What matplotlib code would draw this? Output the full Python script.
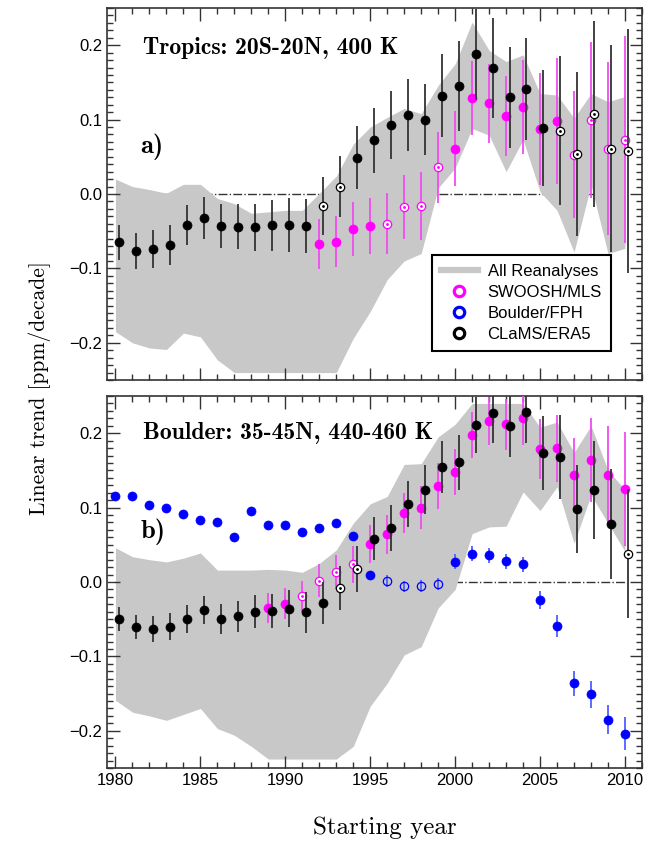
import matplotlib
matplotlib.use('Agg')
import matplotlib.pyplot as plt
from matplotlib.lines import Line2D
from matplotlib.ticker import MultipleLocator
import numpy as np

plt.rcParams['font.family'] = ['Liberation Sans', 'DejaVu Sans']

# Starting years (trend computed from this year on)
years = np.arange(1980, 2011)

# ---- panel a) Tropics 20S-20N, 400 K ----
top_rean_hi = [0.020, 0.010, 0.006, 0.001, 0.013, 0.013, -0.006, -0.013, -0.026, -0.024, -0.022,
               -0.022, 0.001, 0.024, 0.067, 0.090, 0.103, 0.115, 0.108, 0.146, 0.175, 0.231,
               0.193, 0.178, 0.187, 0.135, 0.133, 0.102, 0.135, 0.124, 0.131]
top_rean_lo = [-0.185, -0.200, -0.207, -0.209, -0.187, -0.192, -0.223, -0.240, -0.240, -0.240,
               -0.240, -0.240, -0.240, -0.240, -0.194, -0.158, -0.115, -0.090, -0.080, 0.008,
               0.035, 0.088, 0.079, 0.030, 0.073, 0.003, -0.022, -0.078, 0.012, -0.080, -0.073]

top_clams = [-0.065, -0.077, -0.074, -0.068, -0.042, -0.032, -0.043, -0.044, -0.045, -0.042,
             -0.042, -0.043, -0.016, 0.010, 0.049, 0.072, 0.093, 0.106, 0.100, 0.132, 0.145,
             0.188, 0.169, 0.130, 0.141, 0.089, 0.085, 0.054, 0.108, 0.061, 0.058]
top_clams_err = [0.024, 0.024, 0.025, 0.027, 0.027, 0.028, 0.029, 0.030, 0.032, 0.034, 0.036,
                 0.036, 0.039, 0.041, 0.042, 0.044, 0.046, 0.048, 0.048, 0.056, 0.060, 0.061,
                 0.067, 0.068, 0.069, 0.078, 0.100, 0.110, 0.125, 0.139, 0.164]
top_clams_open = [1992, 1993, 2006, 2007, 2008, 2009, 2010]

top_swoosh_years = np.arange(1992, 2011)
top_swoosh = [-0.067, -0.064, -0.047, -0.043, -0.040, -0.018, -0.016, 0.036, 0.061, 0.129,
              0.122, 0.105, 0.117, 0.087, 0.098, 0.053, 0.099, 0.061, 0.073]
top_swoosh_err = [0.034, 0.034, 0.036, 0.038, 0.041, 0.043, 0.046, 0.048, 0.050, 0.050, 0.053,
                  0.054, 0.063, 0.075, 0.085, 0.085, 0.105, 0.116, 0.139]
top_swoosh_open = [1996, 1997, 1998, 1999, 2007, 2008, 2009, 2010]

# ---- panel b) Boulder 35-45N, 440-460 K ----
bot_rean_hi = [0.046, 0.034, 0.030, 0.027, 0.032, 0.039, 0.016, 0.016, 0.016, 0.017, 0.016,
               0.013, 0.025, 0.043, 0.079, 0.105, 0.115, 0.158, 0.159, 0.195, 0.212, 0.240,
               0.240, 0.240, 0.240, 0.208, 0.215, 0.174, 0.210, 0.150, 0.124]
bot_rean_lo = [-0.159, -0.175, -0.180, -0.186, -0.178, -0.170, -0.197, -0.206, -0.221, -0.238,
               -0.238, -0.238, -0.238, -0.238, -0.221, -0.167, -0.136, -0.098, -0.087, -0.035,
               -0.010, 0.065, 0.074, 0.075, 0.121, 0.096, 0.128, 0.052, 0.117, 0.079, 0.041]

bot_clams = [-0.050, -0.061, -0.063, -0.060, -0.050, -0.038, -0.050, -0.046, -0.040, -0.039,
             -0.036, -0.041, -0.028, -0.008, 0.018, 0.058, 0.072, 0.105, 0.124, 0.155, 0.161,
             0.211, 0.227, 0.210, 0.229, 0.173, 0.168, 0.098, 0.124, 0.078, 0.038]
bot_clams_err = [0.016, 0.016, 0.017, 0.018, 0.019, 0.019, 0.020, 0.021, 0.022, 0.023, 0.025,
                 0.027, 0.028, 0.029, 0.031, 0.029, 0.031, 0.031, 0.033, 0.035, 0.037, 0.037,
                 0.040, 0.042, 0.042, 0.050, 0.056, 0.059, 0.066, 0.074, 0.087]
bot_clams_open = [1993, 1994, 2010]

bot_swoosh_years = np.arange(1989, 2011)
bot_swoosh = [-0.035, -0.029, -0.019, 0.002, 0.013, 0.024, 0.051, 0.064, 0.093, 0.100, 0.129,
              0.148, 0.198, 0.216, 0.212, 0.221, 0.179, 0.180, 0.144, 0.164, 0.144, 0.125]
bot_swoosh_err = [0.020, 0.021, 0.021, 0.022, 0.023, 0.025, 0.026, 0.026, 0.027, 0.029, 0.031,
                  0.031, 0.031, 0.032, 0.034, 0.037, 0.040, 0.045, 0.050, 0.056, 0.065, 0.076]
bot_swoosh_open = [1991, 1992, 1993, 1994]

bot_fph = [0.115, 0.115, 0.103, 0.100, 0.092, 0.083, 0.080, 0.061, 0.096, 0.076, 0.077, 0.067,
           0.072, 0.079, 0.062, 0.009, 0.001, -0.006, -0.005, -0.003, 0.027, 0.038, 0.036,
           0.028, 0.024, -0.024, -0.059, -0.136, -0.151, -0.185, -0.204]
bot_fph_err = [0.004, 0.004, 0.004, 0.004, 0.004, 0.004, 0.004, 0.004, 0.004, 0.004, 0.004,
               0.004, 0.004, 0.004, 0.004, 0.006, 0.008, 0.008, 0.008, 0.008, 0.010, 0.010,
               0.010, 0.010, 0.010, 0.012, 0.015, 0.017, 0.018, 0.019, 0.022]
bot_fph_open = [1996, 1997, 1998, 1999]

GRAY = '#c8c8c8'
MAG = '#ff00ff'
BLUE = '#0000ff'
BLACK = '#000000'
AXC = '#333333'


def draw_series(ax, x, y, err, open_years, color, ecolor, dx=0.0, z=3, dot=True):
    x = np.asarray(x, dtype=float)
    y = np.asarray(y)
    err = np.asarray(err)
    is_open = np.isin(x, open_years)
    ax.errorbar(x + dx, y, yerr=err, fmt='none', ecolor=ecolor, elinewidth=1.3,
                capsize=0, zorder=z)
    ax.plot(x[~is_open] + dx, y[~is_open], 'o', color=color, ms=6.5, mec=color,
            mew=0.5, zorder=z + 0.2)
    if dot:
        ax.plot(x[is_open] + dx, y[is_open], 'o', mfc='white', mec=color, mew=0.9,
                ms=6, zorder=z + 0.2)
        ax.plot(x[is_open] + dx, y[is_open], 'o', color=color, ms=1.0, zorder=z + 0.3)
    else:
        ax.plot(x[is_open] + dx, y[is_open], 'o', mfc='none', mec=color, mew=0.9,
                ms=6, zorder=z + 0.2)


def style_axes(ax, show_xlabels):
    ax.set_xlim(1979.5, 2011)
    ax.set_ylim(-0.25, 0.25)
    ax.xaxis.set_major_locator(MultipleLocator(5))
    ax.xaxis.set_minor_locator(MultipleLocator(1))
    ax.yaxis.set_major_locator(MultipleLocator(0.1))
    ax.yaxis.set_minor_locator(MultipleLocator(0.01))
    ax.tick_params(which='both', direction='in', top=True, right=True, color=AXC,
                   labelsize=12, width=1.0)
    ax.tick_params(which='major', length=9)
    ax.tick_params(which='minor', length=4.5)
    ax.yaxis.set_major_formatter(plt.FuncFormatter(lambda v, p: f'{v:.1f}'.replace('-', '\u2212')))
    if not show_xlabels:
        ax.tick_params(axis='x', labelbottom=False)
    for s in ax.spines.values():
        s.set_color(AXC)
        s.set_linewidth(1.2)


fig = plt.figure(figsize=(6.48, 8.42), dpi=100)
ax1 = fig.add_axes([0.1651, 0.5487, 0.8256, 0.4418])
ax2 = fig.add_axes([0.1651, 0.0879, 0.8256, 0.4418])

# panel a
ax1.plot([1980, 2010], [0, 0], ls='-.', color='#333333', lw=1.0, zorder=0)
ax1.fill_between(years, top_rean_lo, top_rean_hi, color=GRAY, lw=0, zorder=1)
draw_series(ax1, top_swoosh_years, top_swoosh, top_swoosh_err, top_swoosh_open, MAG, '#f04cf0', z=3)
draw_series(ax1, years, top_clams, top_clams_err, top_clams_open, BLACK, '#333333', dx=0.2, z=5)
style_axes(ax1, False)
ax1.text(0.067, 0.892, 'Tropics: 20S-20N, 400 K', transform=ax1.transAxes, fontsize=17,
         fontfamily='cmb10', va='center', ha='left')
ax1.text(0.062, 0.626, 'a)', transform=ax1.transAxes, fontsize=19, fontfamily='cmb10',
         va='center', ha='left')

handles = [Line2D([], [], color=GRAY, lw=4.5),
           Line2D([], [], ls='', marker='o', ms=7.5, mfc='white', mec=MAG, mew=2.3),
           Line2D([], [], ls='', marker='o', ms=7.5, mfc='white', mec=BLUE, mew=2.3),
           Line2D([], [], ls='', marker='o', ms=7.5, mfc='white', mec=BLACK, mew=2.3)]
leg = ax1.legend(handles, ['All Reanalyses', 'SWOOSH/MLS', 'Boulder/FPH', 'CLaMS/ERA5'],
                 loc='upper left', bbox_to_anchor=(0.607, 0.336), fontsize=12,
                 fancybox=False, framealpha=1, edgecolor='black', handlelength=2.2,
                 borderpad=0.55, labelspacing=0.36, handletextpad=0.6, borderaxespad=0)
leg.get_frame().set_linewidth(1.5)
leg.set_zorder(10)

# panel b
ax2.plot([1980, 2010], [0, 0], ls='-.', color='#333333', lw=1.0, zorder=0)
ax2.fill_between(years, bot_rean_lo, bot_rean_hi, color=GRAY, lw=0, zorder=1)
draw_series(ax2, bot_swoosh_years, bot_swoosh, bot_swoosh_err, bot_swoosh_open, MAG, '#f04cf0', z=3)
draw_series(ax2, years, bot_fph, bot_fph_err, bot_fph_open, BLUE, '#5060ff', z=4, dot=False)
draw_series(ax2, years, bot_clams, bot_clams_err, bot_clams_open, BLACK, '#333333', dx=0.2, z=5)
style_axes(ax2, True)
ax2.text(0.067, 0.90, 'Boulder: 35-45N, 440-460 K', transform=ax2.transAxes, fontsize=17,
         fontfamily='cmb10', va='center', ha='left')
ax2.text(0.062, 0.634, 'b)', transform=ax2.transAxes, fontsize=19, fontfamily='cmb10',
         va='center', ha='left')

fig.text(0.062, 0.539, 'Linear trend [ppm/decade]', rotation=90, va='center', ha='center',
         fontsize=15.5, fontfamily='cmr10')
fig.text(0.594, 0.0166, 'Starting year', va='center', ha='center', fontsize=18,
         fontfamily='cmr10')

fig.savefig('out.png', dpi=100)
